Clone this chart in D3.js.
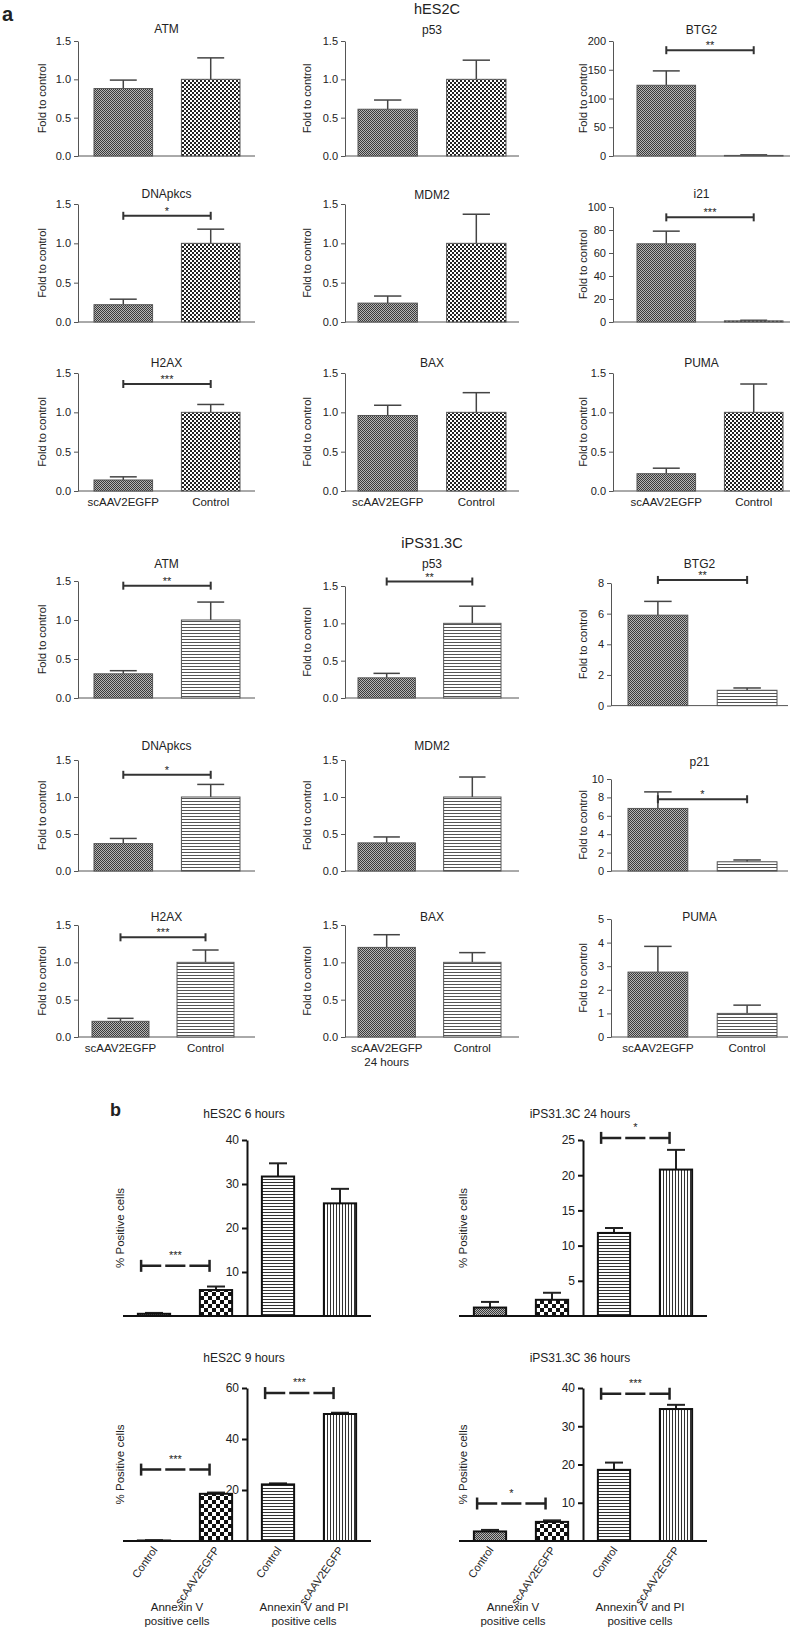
<!DOCTYPE html>
<html><head><meta charset="utf-8">
<script src="https://cdn.jsdelivr.net/npm/d3@7"></script>
<style>body{margin:0;background:#fff} svg{display:block} text{font-family:"Liberation Sans",Arial,sans-serif;}</style>
</head><body>
<svg id="c" width="800" height="1636"></svg>
<script>
// ===== DATA =====
const groups = ["scAAV2EGFP","Control"];
// panel a, hES2C
const hesGenes = ["ATM","p53","BTG2","DNApkcs","MDM2","i21","H2AX","BAX","PUMA"];
const hesTreated = [0.88,0.61,123,0.22,0.24,68,0.14,0.96,0.22];
const hesTreatedErr = [0.99,0.73,148,0.29,0.33,79,0.18,1.09,0.29];
const hesControl = [1,1,1,1,1,1,1,1,1];
const hesControlErr = [1.28,1.25,2,1.18,1.37,1.5,1.10,1.25,1.36];
const hesYMax = [1.5,1.5,200,1.5,1.5,100,1.5,1.5,1.5];
const hesYStep = [0.5,0.5,50,0.5,0.5,20,0.5,0.5,0.5];
const hesSig = ["","","**","*","","***","***","",""];
const hesSigY = [0,0,184,1.35,0,91,1.36,0,0];
// panel a, iPS31.3C
const ipsGenes = ["ATM","p53","BTG2","DNApkcs","MDM2","p21","H2AX","BAX","PUMA"];
const ipsTreated = [0.31,0.27,5.9,0.37,0.38,6.8,0.21,1.2,2.75];
const ipsTreatedErr = [0.35,0.33,6.8,0.44,0.46,8.6,0.25,1.37,3.84];
const ipsControl = [1,1,1,1,1,1,1,1,1];
const ipsControlErr = [1.23,1.23,1.15,1.17,1.27,1.2,1.165,1.13,1.35];
const ipsYMax = [1.5,1.5,8,1.5,1.5,10,1.5,1.5,5];
const ipsYStep = [0.5,0.5,2,0.5,0.5,2,0.5,0.5,1];
const ipsSig = ["**","**","**","*","","*","***","",""];
const ipsSigY = [1.44,1.56,8.2,1.3,0,7.8,1.335,0,0];
// panel b
const bTitles = ["hES2C 6 hours","iPS31.3C 24 hours","hES2C 9 hours","iPS31.3C 36 hours"];
const bCats = ["Control","scAAV2EGFP","Control","scAAV2EGFP"];
const bGroupLabels = [["Annexin V","positive cells"],["Annexin V and PI","positive cells"]];
const bValues = [[0.5,5.9,31.7,25.6],[1.2,2.3,11.8,20.8],[0.2,18.5,22.2,49.8],[2.5,5.0,18.6,34.5]];
const bErr = [[0.7,6.7,34.7,28.9],[2.0,3.3,12.5,23.6],[0.3,19.0,22.6,50.3],[2.9,5.4,20.5,35.6]];
const bYMax = [40,25,60,40];
const bYStep = [10,5,20,10];
const bSig = [[[0,1,"***",11.4]],[[2,3,"*",25.3]],[[0,1,"***",28],[2,3,"***",58]],[[0,1,"*",9.8],[2,3,"***",38.5]]];

// ===== LAYOUT =====
const hesCols = {axisX:[78,345,613], xEnd:[255,519,790], r0:[94,358,637], r1:[240,506,783], yl:[46,311,587]};
const hesTop = [41,41,41,204,204,207,373,373,373];
const hesZero = [156,156,156,322,322,322,491,491,491];
const hesTitleY = [33,34,34,198,199,198,367,367,367];
const ipsCols = {axisX:[78,345,611], xEnd:[255,519,788], r0:[94,358,628], r1:[240,501,777], yl:[46,311,587]};
const ipsTop = [581,586,583,760,760,779,925,925,919];
const ipsZero = [698,698,705.6,871,871,871,1037,1037,1037];
const ipsTitleY = [568,568,568,750,750,766,921,921,921];
const bX0 = [123,459,123,459];
const bYL = [124,467,124,467];
const bTop = [1140,1140,1388,1388];
const bBase = [1316,1316,1541,1541];
const bTitleY = [1118,1118,1362,1362];

const svg = d3.select("#c");
const defs = svg.append("defs");
function pat(id,w,h,bg,rects){
  const p = defs.append("pattern").attr("id",id).attr("width",w).attr("height",h).attr("patternUnits","userSpaceOnUse");
  p.append("rect").attr("width",w).attr("height",h).attr("fill",bg);
  rects.forEach(r=>p.append("rect").attr("x",r[0]).attr("y",r[1]).attr("width",r[2]).attr("height",r[3]).attr("fill",r[4]));
}
pat("pFine",2,2,"#b4b4b4",[[0,0,1,1,"#3a3a3a"],[1,1,1,1,"#3a3a3a"]]);
pat("pCheck",4,4,"#fff",[[0,0,2,2,"#222"],[2,2,2,2,"#222"]]);
pat("pH",3,3,"#fff",[[0,0,3,1,"#555"]]);
pat("pBigCheck",8,8,"#fff",[[0,0,4,4,"#111"],[4,4,4,4,"#111"]]);
pat("pH2",3,3,"#fff",[[0,0,3,1,"#333"]]);
pat("pV2",3,3,"#fff",[[0,0,1,3,"#333"]]);

function txt(g,x,y,s,size,opts={}){
  const t = g.append("text").attr("x",x).attr("y",y).text(s).attr("font-size",size).attr("fill","#222")
    .attr("text-anchor",opts.anchor||"middle");
  if(opts.bold) t.attr("font-weight","bold");
  if(opts.rot) t.attr("transform",`rotate(${opts.rot},${x},${y})`);
  return t;
}

function panelA(p){
  const g = svg.append("g");
  const x = d3.scaleBand().domain(groups).range([p.r0,p.r1]).paddingInner(0.33).paddingOuter(0);
  const y = d3.scaleLinear().domain([0,p.yMax]).range([p.zero,p.top]);
  const fmt = p.yStep < 1 ? d3.format(".1f") : d3.format("d");
  const ax = g.append("g").attr("transform",`translate(${p.axisX},0)`)
    .call(d3.axisLeft(y).tickValues(d3.range(0,p.yMax+p.yStep/2,p.yStep)).tickSize(4).tickSizeOuter(0).tickPadding(3).tickFormat(fmt));
  ax.select(".domain").attr("stroke","#555");
  ax.selectAll(".tick line").attr("stroke","#555");
  ax.selectAll("text").attr("font-size",11).attr("fill","#222").attr("font-family",'"Liberation Sans",Arial,sans-serif');
  g.append("line").attr("x1",p.axisX).attr("x2",p.xEnd).attr("y1",y(0)).attr("y2",y(0)).attr("stroke","#555");
  const bw = x.bandwidth();
  const data = [{k:groups[0],v:p.t,e:p.te,f:"url(#pFine)"},{k:groups[1],v:p.c,e:p.ce,f:p.cf}];
  data.forEach(d=>{
    const cx = x(d.k)+bw/2;
    g.append("line").attr("x1",cx).attr("x2",cx).attr("y1",y(d.v)).attr("y2",y(d.e)).attr("stroke","#444").attr("stroke-width",1.5);
    g.append("line").attr("x1",cx-bw*0.23).attr("x2",cx+bw*0.23).attr("y1",y(d.e)).attr("y2",y(d.e)).attr("stroke","#444").attr("stroke-width",1.5);
    g.append("rect").attr("x",x(d.k)).attr("y",y(d.v)).attr("width",bw).attr("height",y(0)-y(d.v))
      .attr("fill",d.f).attr("stroke","#555").attr("stroke-width",1);
  });
  if(p.sig){
    const x1 = x(groups[0])+bw/2, x2 = x(groups[1])+bw/2, sy = y(p.sigY);
    g.append("line").attr("x1",x1).attr("x2",x2).attr("y1",sy).attr("y2",sy).attr("stroke","#333").attr("stroke-width",2);
    [x1,x2].forEach(xx=>g.append("line").attr("x1",xx).attr("x2",xx).attr("y1",sy-4).attr("y2",sy+4).attr("stroke","#333").attr("stroke-width",2));
    txt(g,(x1+x2)/2,sy-1,p.sig,11);
  }
  txt(g,(p.axisX+p.xEnd)/2,p.titleY,p.name,12);
  txt(g,p.yl,(p.top+p.zero)/2,"Fold to control",11,{rot:-90});
  if(p.xlab){
    groups.forEach(k=>txt(g,x(k)+bw/2,y(0)+15,k,11.5));
    if(p.xlab2) txt(g,x(groups[0])+bw/2,y(0)+29,p.xlab2,11.5);
  }
}

function sectionA(genes,T,TE,C,CE,YM,YS,S,SY,cols,top,zero,ty,cf,xlab2){
  genes.forEach((name,i)=>{
    const c = i%3, r = Math.floor(i/3);
    const shift = (r===2&&xlab2&&c===0);
    panelA({name,t:T[i],te:TE[i],c:C[i],ce:CE[i],yMax:YM[i],yStep:YS[i],sig:S[i],sigY:SY[i],
      axisX:cols.axisX[c],xEnd:cols.xEnd[c],r0:cols.r0[c]-(shift?2:0),r1:cols.r1[c]-(shift?6:0),yl:cols.yl[c],
      top:top[i],zero:zero[i],titleY:ty[i],cf,xlab:r===2,xlab2:(r===2&&c===1)?xlab2:null});
  });
}

txt(svg,2,21,"a",20,{bold:true,anchor:"start"});
txt(svg,437,14,"hES2C",14.5);
sectionA(hesGenes,hesTreated,hesTreatedErr,hesControl,hesControlErr,hesYMax,hesYStep,hesSig,hesSigY,hesCols,hesTop,hesZero,hesTitleY,"url(#pCheck)",null);
txt(svg,432,548,"iPS31.3C",14.5);
sectionA(ipsGenes,ipsTreated,ipsTreatedErr,ipsControl,ipsControlErr,ipsYMax,ipsYStep,ipsSig,ipsSigY,ipsCols,ipsTop,ipsZero,ipsTitleY,"url(#pH)","24 hours");

// ===== panel b =====
txt(svg,110,1116,"b",18,{bold:true,anchor:"start"});
const bFills = ["url(#pFine)","url(#pBigCheck)","url(#pH2)","url(#pV2)"];
bTitles.forEach((title,i)=>{
  const g = svg.append("g");
  const x0 = bX0[i], x1 = x0+248;
  const x = d3.scaleBand().domain([0,1,2,3]).range([x0,x1]).paddingInner(0.48).paddingOuter(0.24);
  const y = d3.scaleLinear().domain([0,bYMax[i]]).range([bBase[i],bTop[i]]);
  const axX = (x0+x1)/2;
  const ax = g.append("g").attr("transform",`translate(${axX},0)`)
    .call(d3.axisLeft(y).tickValues(d3.range(bYStep[i],bYMax[i]+bYStep[i]/2,bYStep[i])).tickSize(5).tickSizeOuter(0).tickPadding(3).tickFormat(d3.format("d")));
  ax.select(".domain").attr("stroke","#111").attr("stroke-width",2);
  ax.selectAll(".tick line").attr("stroke","#111").attr("stroke-width",2);
  ax.selectAll("text").attr("font-size",12).attr("fill","#222").attr("font-family",'"Liberation Sans",Arial,sans-serif');
  g.append("line").attr("x1",x0).attr("x2",x1).attr("y1",y(0)).attr("y2",y(0)).attr("stroke","#111").attr("stroke-width",2);
  const bw = x.bandwidth();
  bValues[i].forEach((v,j)=>{
    const cx = x(j)+bw/2, e = bErr[i][j];
    g.append("line").attr("x1",cx).attr("x2",cx).attr("y1",y(v)).attr("y2",y(e)).attr("stroke","#222").attr("stroke-width",2);
    g.append("line").attr("x1",cx-bw*0.28).attr("x2",cx+bw*0.28).attr("y1",y(e)).attr("y2",y(e)).attr("stroke","#222").attr("stroke-width",2);
    g.append("rect").attr("x",x(j)).attr("y",y(v)).attr("width",bw).attr("height",Math.max(0,y(0)-y(v)))
      .attr("fill",bFills[j]).attr("stroke","#111").attr("stroke-width",2);
  });
  bSig[i].forEach(s=>{
    const a = x(s[0])+bw*0.1, b = x(s[1])+bw*0.3, sy = y(s[3]);
    const len = b-a, dash = (len-8)/3;
    g.append("line").attr("x1",a).attr("x2",b).attr("y1",sy).attr("y2",sy).attr("stroke","#222").attr("stroke-width",2.5)
      .attr("stroke-dasharray",`${dash},4`);
    [a,b].forEach(xx=>g.append("line").attr("x1",xx).attr("x2",xx).attr("y1",sy-6).attr("y2",sy+6).attr("stroke","#222").attr("stroke-width",2.5));
    txt(g,(a+b)/2,sy-7,s[2],11);
  });
  txt(g,(x0+x1)/2-3,bTitleY[i],title,12);
  txt(g,bYL[i],(bTop[i]+bBase[i])/2,"% Positive cells",11.5,{rot:-90});
  if(i>=2){
    bCats.forEach((c,j)=>{
      const cx = x(j)+bw/2+4, yy = y(0)+9;
      txt(g,cx,yy,c,11,{anchor:"end",rot:-55});
    });
    bGroupLabels.forEach((lines,k)=>{
      const cx = (x(2*k)+x(2*k+1)+bw)/2 - (k===0?8:5);
      lines.forEach((l,li)=>txt(g,cx,1611+li*14,l,11.5));
    });
  }
});
</script>
</body></html>
